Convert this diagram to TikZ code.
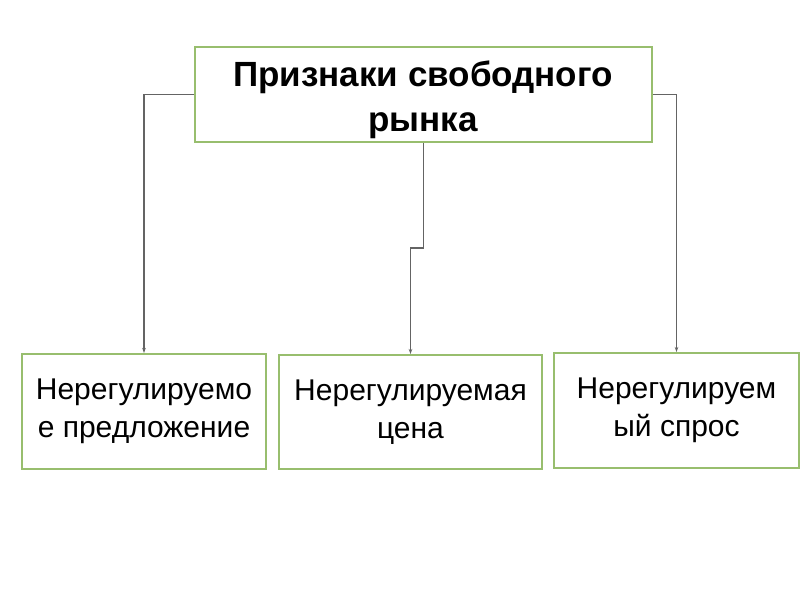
\documentclass[tikz,border=0pt]{standalone}
\usepackage{fontspec}
\setmainfont{Liberation Sans}
\usetikzlibrary{arrows.meta}
\definecolor{boxgreen}{RGB}{152,190,110}
\definecolor{conn}{RGB}{100,100,100}
\tikzset{
  box/.style={draw=boxgreen, line width=2pt, rectangle, inner sep=0pt, align=center, fill=white},
  toptext/.style={font=\fontsize{35}{45}\selectfont\bfseries},
  subtext/.style={font=\fontsize{30}{38}\selectfont},
  link/.style={draw=conn, line width=1.1pt, -{Stealth[length=5pt,width=3.5pt]}},
}
\begin{document}
\begin{tikzpicture}[x=1pt,y=-1pt]
\useasboundingbox (0,0) rectangle (800,600);
\node[box, minimum width=457pt, minimum height=95pt] (top) at (423.5,94.5) {};
\node[toptext, align=center, inner sep=0pt] (toplabel) at (423,100) {Признаки свободного\\рынка};
\node[box, subtext, minimum width=244pt, minimum height=115pt] (b1) at (144,411.5) {Нерегулируемо\\е предложение};
\node[box, subtext, minimum width=263pt, minimum height=114pt] (b2) at (410.5,412) {Нерегулируемая\\цена};
\node[box, subtext, minimum width=245pt, minimum height=115pt] (b3) at (676.5,410.5) {Нерегулируем\\ый спрос};
\draw[link] (top.west) -| (b1.north);
\draw[link] (top.east) -| (b3.north);
\draw[link] (top.south) -- (top.south |- 0,248) -| (b2.north);
\end{tikzpicture}
\end{document}
